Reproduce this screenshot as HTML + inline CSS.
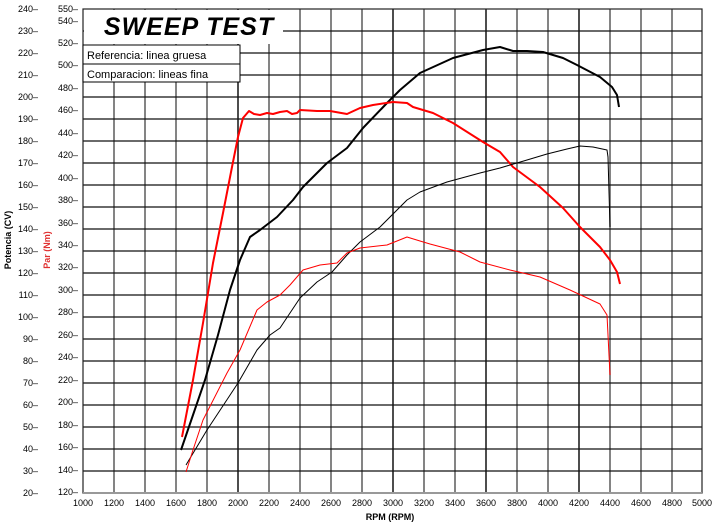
<!DOCTYPE html>
<html><head><meta charset="utf-8"><style>
html,body{margin:0;padding:0;background:#fff;}
svg{display:block;font-family:"Liberation Sans",Arial,sans-serif;}
</style></head><body>
<svg width="713" height="525" viewBox="0 0 713 525" xmlns="http://www.w3.org/2000/svg">
<rect width="713" height="525" fill="#fff"/>
<!-- vertical grid -->
<g stroke="#666" stroke-width="1.6">
<line x1="114" y1="9" x2="114" y2="493"/><line x1="145" y1="9" x2="145" y2="493"/>
<line x1="176" y1="9" x2="176" y2="493"/><line x1="207" y1="9" x2="207" y2="493"/>
<line x1="238" y1="9" x2="238" y2="493" stroke="#222"/><line x1="269" y1="9" x2="269" y2="493"/>
<line x1="300" y1="9" x2="300" y2="493"/><line x1="331" y1="9" x2="331" y2="493"/>
<line x1="362" y1="9" x2="362" y2="493"/><line x1="393" y1="9" x2="393" y2="493" stroke="#222"/>
<line x1="424" y1="9" x2="424" y2="493"/><line x1="455" y1="9" x2="455" y2="493"/>
<line x1="486" y1="9" x2="486" y2="493" stroke="#222"/><line x1="517" y1="9" x2="517" y2="493"/>
<line x1="548" y1="9" x2="548" y2="493"/><line x1="579" y1="9" x2="579" y2="493" stroke="#222"/>
<line x1="610" y1="9" x2="610" y2="493"/><line x1="641" y1="9" x2="641" y2="493"/>
<line x1="672" y1="9" x2="672" y2="493"/>
</g>
<!-- horizontal grid -->
<g stroke="#111" stroke-width="1.3">
<line x1="83" y1="31" x2="702" y2="31"/><line x1="83" y1="53" x2="702" y2="53"/>
<line x1="83" y1="75" x2="702" y2="75"/><line x1="83" y1="97" x2="702" y2="97"/>
<line x1="83" y1="119" x2="702" y2="119"/><line x1="83" y1="141" x2="702" y2="141"/>
<line x1="83" y1="163" x2="702" y2="163"/><line x1="83" y1="185" x2="702" y2="185"/>
<line x1="83" y1="207" x2="702" y2="207"/><line x1="83" y1="229" x2="702" y2="229"/>
<line x1="83" y1="251" x2="702" y2="251"/><line x1="83" y1="273" x2="702" y2="273"/>
<line x1="83" y1="295" x2="702" y2="295"/><line x1="83" y1="317" x2="702" y2="317"/>
<line x1="83" y1="339" x2="702" y2="339"/><line x1="83" y1="361" x2="702" y2="361"/>
<line x1="83" y1="383" x2="702" y2="383"/><line x1="83" y1="405" x2="702" y2="405"/>
<line x1="83" y1="427" x2="702" y2="427"/><line x1="83" y1="449" x2="702" y2="449"/>
<line x1="83" y1="471" x2="702" y2="471"/>
</g>
<!-- title area -->
<rect x="84" y="10" width="199" height="34" fill="#fff"/>
<rect x="84" y="10" width="200" height="20" fill="#fff"/>
<!-- frame -->
<rect x="83" y="9" width="619" height="484" fill="none" stroke="#222" stroke-width="1.2"/>
<line x1="83" y1="493" x2="702" y2="493" stroke="#999" stroke-width="2"/>
<text x="189" y="35" font-size="25" font-weight="bold" font-style="italic" text-anchor="middle" fill="#000" letter-spacing="1">SWEEP TEST</text>
<!-- legend -->
<rect x="83" y="45" width="157" height="37" fill="#fff" stroke="#000" stroke-width="1"/>
<line x1="83" y1="64" x2="240" y2="64" stroke="#000"/>
<text x="87" y="59" font-size="11">Referencia: linea gruesa</text>
<text x="87" y="78" font-size="11">Comparacion: lineas fina</text>
<!-- curves -->
<g fill="none" stroke-linejoin="round">
<polyline stroke="#000" stroke-width="2" points="181,450 193,415 205,380 218,335 230,290 240,260 250,237 260,230 277,217 293,200 303,187 327,163 347,148 363,128 387,103 400,90 420,73 453,58 483,50 500,47 513,51 527,51 543,52 563,58 577,65 600,77 612,87 617,95 619,107"/>
<polyline stroke="#f00" stroke-width="2" points="182,437 193,380 203,323 213,263 223,213 232,167 238,137 243,118 249,111 254,114 260,115 267,113 273,114 280,112 287,111 292,114 297,113 300,110 317,111 330,111 347,114 360,108 373,105 393,102 407,103 413,107 433,113 453,123 483,142 500,152 513,167 540,187 563,208 580,227 600,247 610,260 617,272 620,284"/>
<polyline stroke="#000" stroke-width="1" points="186,465 207,430 238,383 257,350 270,335 280,328 300,298 317,282 332,272 347,255 360,242 380,227 400,207 407,200 420,192 447,182 480,173 500,168 527,160 547,154 567,149 580,146 593,147 607,150 608,157 610,227"/>
<polyline stroke="#f00" stroke-width="1" points="186,472 193,450 203,420 227,373 240,350 257,310 267,302 280,295 290,285 303,270 320,265 337,263 347,253 360,248 387,245 407,237 420,241 430,244 460,252 480,262 510,270 540,277 570,290 600,304 607,315 610,375"/>
</g>
<!-- power axis labels -->
<g font-size="9" text-anchor="end" fill="#000">
<text x="38" y="496">20–</text><text x="38" y="474">30–</text><text x="38" y="452">40–</text>
<text x="38" y="430">50–</text><text x="38" y="408">60–</text><text x="38" y="386">70–</text>
<text x="38" y="364">80–</text><text x="38" y="342">90–</text><text x="38" y="320">100–</text>
<text x="38" y="298">110–</text><text x="38" y="276">120–</text><text x="38" y="254">130–</text>
<text x="38" y="232">140–</text><text x="38" y="210">150–</text><text x="38" y="188">160–</text>
<text x="38" y="166">170–</text><text x="38" y="144">180–</text><text x="38" y="122">190–</text>
<text x="38" y="100">200–</text><text x="38" y="78">210–</text><text x="38" y="56">220–</text>
<text x="38" y="34">230–</text><text x="38" y="12">240–</text>
</g>
<!-- torque axis labels -->
<g font-size="9" text-anchor="end" fill="#000">
<text x="78" y="495">120–</text><text x="78" y="473">140–</text><text x="78" y="450">160–</text>
<text x="78" y="428">180–</text><text x="78" y="405">200–</text><text x="78" y="383">220–</text>
<text x="78" y="360">240–</text><text x="78" y="338">260–</text><text x="78" y="315">280–</text>
<text x="78" y="293">300–</text><text x="78" y="270">320–</text><text x="78" y="248">340–</text>
<text x="78" y="226">360–</text><text x="78" y="203">380–</text><text x="78" y="181">400–</text>
<text x="78" y="158">420–</text><text x="78" y="136">440–</text><text x="78" y="113">460–</text>
<text x="78" y="91">480–</text><text x="78" y="68">500–</text><text x="78" y="46">520–</text>
<text x="78" y="24">540–</text><text x="78" y="12">550–</text>
</g>
<!-- x labels -->
<g font-size="9" text-anchor="middle" fill="#000">
<text x="83" y="506">1000</text><text x="114" y="506">1200</text><text x="145" y="506">1400</text>
<text x="176" y="506">1600</text><text x="207" y="506">1800</text><text x="238" y="506">2000</text>
<text x="269" y="506">2200</text><text x="300" y="506">2400</text><text x="331" y="506">2600</text>
<text x="362" y="506">2800</text><text x="393" y="506">3000</text><text x="424" y="506">3200</text>
<text x="455" y="506">3400</text><text x="486" y="506">3600</text><text x="517" y="506">3800</text>
<text x="548" y="506">4000</text><text x="579" y="506">4200</text><text x="610" y="506">4400</text>
<text x="641" y="506">4600</text><text x="672" y="506">4800</text><text x="702" y="506">5000</text>
</g>
<text x="390" y="520" font-size="9" font-weight="bold" text-anchor="middle">RPM (RPM)</text>
<text transform="translate(11,240) rotate(-90)" font-size="9" font-weight="bold" text-anchor="middle">Potencia (CV)</text>
<text transform="translate(50,250) rotate(-90)" font-size="9" font-weight="bold" text-anchor="middle" fill="#e03030">Par (Nm)</text>
</svg>
</body></html>
